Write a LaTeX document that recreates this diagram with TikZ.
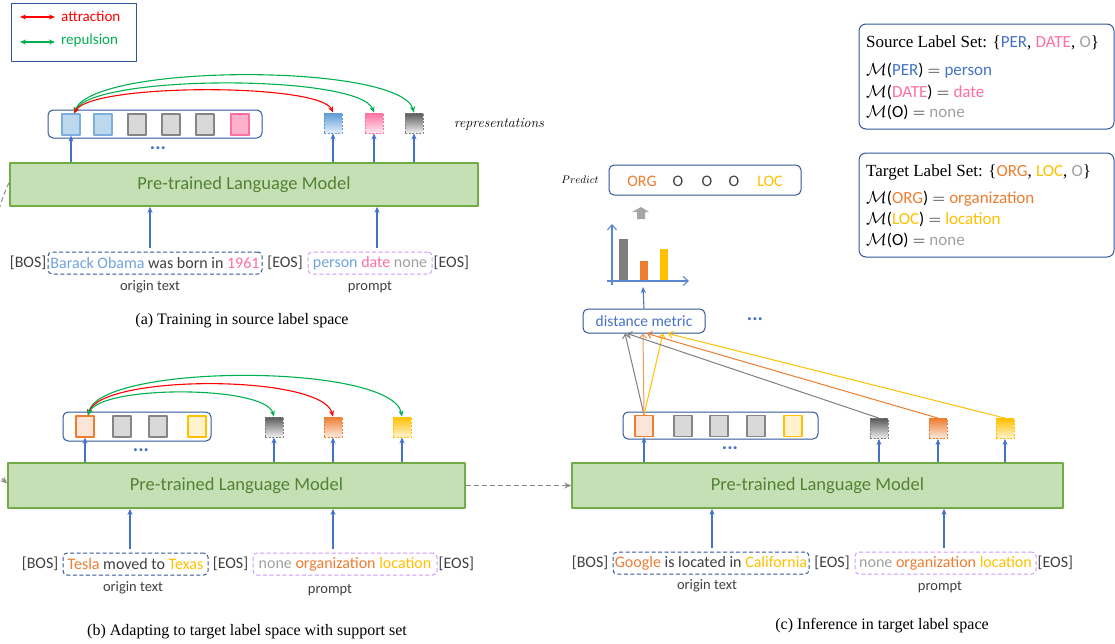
\documentclass[tikz,border=0pt]{standalone}
\usepackage{fontspec}
\setmainfont{Liberation Serif}
\newfontfamily\dx{Carlito}
\newfontfamily\lmrm{Latin Modern Roman}
\usetikzlibrary{arrows.meta,calc}

\definecolor{dkblue}{HTML}{2F5597}
\definecolor{arrblue}{HTML}{4472C4}
\definecolor{axblue}{HTML}{5B86D0}
\definecolor{lmfill}{HTML}{C5E0B4}
\definecolor{lmdraw}{HTML}{70AD47}
\definecolor{lmtext}{HTML}{548235}
\definecolor{txtdark}{HTML}{404040}
\definecolor{tblue}{HTML}{6FA3DC}
\definecolor{lblue}{HTML}{4472C4}
\definecolor{tpink}{HTML}{FF6F9F}
\definecolor{tgray}{HTML}{A0A0A0}
\definecolor{torange}{HTML}{ED7D31}
\definecolor{tyellow}{HTML}{FFC000}
\definecolor{purp}{HTML}{CC99FF}
\definecolor{attrc}{HTML}{FF0000}
\definecolor{repuc}{HTML}{00B050}
\definecolor{dashgray}{HTML}{8C8C8C}
\definecolor{bargray}{HTML}{7F7F7F}
\definecolor{blockgray}{HTML}{A6A6A6}
% token squares
\definecolor{sqblue}{HTML}{BDD7EE}
\definecolor{sqbluedraw}{HTML}{5B9BD5}
\definecolor{sqgray}{HTML}{D9D9D9}
\definecolor{sqgraydraw}{HTML}{858585}
\definecolor{sqpink}{HTML}{FFB0CA}
\definecolor{sqorange}{HTML}{FBE5D6}
\definecolor{sqyellow}{HTML}{FFF2CC}

\begin{document}
\begin{tikzpicture}[x=1pt,y=-1pt,line join=round,
  lmbox/.style={draw=lmdraw, fill=lmfill, line width=1.6pt, inner sep=0pt,
    font=\dx\fontsize{18.5}{20}\selectfont, text=lmtext},
  grp/.style={draw=dkblue, rounded corners=5pt, line width=1pt, inner sep=0pt},
  sq/.style={minimum width=18pt, minimum height=21pt, inner sep=0pt, line width=1.2pt},
  sqb/.style={sq, fill=sqblue, draw=sqbluedraw!80},
  sqg/.style={sq, fill=sqgray, draw=sqgraydraw},
  sqp/.style={sq, fill=sqpink, draw=tpink},
  sqo/.style={sq, fill=sqorange, draw=torange},
  sqy/.style={sq, fill=sqyellow, draw=tyellow},
  rsq/.style={minimum width=18pt, minimum height=20pt, inner sep=0pt, line width=0.8pt,
    dash pattern=on 2pt off 1.5pt},
  rsqb/.style={rsq, top color=sqbluedraw, bottom color=sqblue!40, draw=sqbluedraw},
  rsqp/.style={rsq, top color=tpink, bottom color=tpink!15, draw=tpink},
  rsqg/.style={rsq, top color=black!65, bottom color=black!6, draw=bargray},
  rsqo/.style={rsq, top color=torange, bottom color=torange!15, draw=torange},
  rsqy/.style={rsq, top color=tyellow, bottom color=tyellow!18, draw=tyellow},
  uparr/.style={draw=arrblue, line width=1.1pt, -{Stealth[length=6pt,width=5pt]}},
  dbl/.style={line width=1.1pt, {Stealth[length=6pt,width=5pt]}-{Stealth[length=6pt,width=5pt]}},
  feed/.style={line width=1pt, -{Straight Barb[length=4pt,width=7pt]}},
  axisarr/.style={draw=axblue, line width=1.1pt, -{Straight Barb[length=5pt,width=9pt]}},
  flow/.style={draw=dashgray, line width=1pt, dash pattern=on 5pt off 3pt,
    -{Stealth[length=7pt,width=6pt]}},
  intext/.style={font=\dx\fontsize{16}{18}\selectfont, text=txtdark, inner sep=1pt},
  origbx/.style={intext, draw=dkblue, line width=1pt, dash pattern=on 4pt off 2.5pt,
    rounded corners=4pt, minimum height=22pt},
  prombx/.style={origbx, draw=purp},
  sublbl/.style={font=\dx\fontsize{14.5}{16}\selectfont, text=txtdark, inner sep=0pt},
  capt/.style={font=\fontsize{16}{18}\selectfont, inner sep=0pt},
  dotrow/.style={font=\dx\bfseries\fontsize{20}{20}\selectfont, text=arrblue, inner sep=0pt},
  setline/.style={anchor=west, inner sep=0pt, font=\fontsize{17}{19}\selectfont},
  legtxt/.style={anchor=west, inner sep=0pt, font=\dx\fontsize{15}{17}\selectfont},
  preditem/.style={font=\dx\fontsize{16}{18}\selectfont, inner sep=0pt},
]
\useasboundingbox (0,0) rectangle (1115,643);
\clip (0,0) rectangle (1115,643);

% ---------------- legend ----------------
\node[draw=dkblue, line width=1pt, minimum width=125pt, minimum height=58pt] (legend) at (73.5,32) {};
\coordinate (la1) at (20,17); \coordinate (la2) at (55,17);
\coordinate (lr1) at (20,42); \coordinate (lr2) at (55,42);
\draw[dbl, attrc] (la1) -- (la2);
\draw[dbl, repuc] (lr1) -- (lr2);
\node[legtxt, text=attrc] (legA) at (61,16) {attraction};
\node[legtxt, text=repuc] (legR) at (61,40) {repulsion};

% ---------------- (a) training in source label space ----------------
\node[lmbox, minimum width=468pt, minimum height=43pt] (lmA) at (244,184.5) {Pre-trained Language Model};

\node[grp, minimum width=214pt, minimum height=28pt] (grpA) at (155,124) {};
\node[sqb] (a1) at (71,124.5) {};
\node[sqb] (a2) at (103,124.5) {};
\node[sqg] (a3) at (137,124.5) {};
\node[sqg] (a4) at (171,124.5) {};
\node[sqg] (a5) at (205,124.5) {};
\node[sqp] (a6) at (240,124.5) {};
\node[rsqb] (ra1) at (333,123) {};
\node[rsqp] (ra2) at (374,123) {};
\node[rsqg] (ra3) at (414,123) {};
\node[dotrow] (dotsA) at (158,148) {...};
\node[inner sep=0pt, font=\lmrm\itshape\fontsize{14}{16}\selectfont] (repr) at (499,124) {representations};

\foreach \s in {a1,ra1,ra2,ra3} \draw[uparr] (\s.south |- lmA.north) -- (\s.south);

\draw[dbl, repuc] ($(a1.north)+(3,0)$) .. controls (92,63) and (400,63) .. (ra3.north);
\draw[dbl, repuc] ($(a1.north)+(3,0)$) .. controls (92,74) and (360,74) .. (ra2.north);
\draw[dbl, attrc] ($(a1.north)+(3,0)$) .. controls (92,83) and (320,83) .. (ra1.north);

\node[origbx, minimum width=214pt] (origA) at (155,263)
  {{\color{tblue}Barack Obama} was born in {\color{tpink}1961}};
\node[intext, anchor=east] (bosA) at (origA.west) {[BOS]};
\node[prombx, minimum width=124pt] (promA) at (370,263)
  {{\color{tblue}person} {\color{tpink}date} {\color{tgray}none}};
\node[intext] (eosA1) at ($(origA.east)!0.5!(promA.west)$) {[EOS]};
\node[intext, anchor=west] (eosA2) at (promA.east) {[EOS]};
\node[sublbl] (otA) at (150,287) {origin text};
\node[sublbl] (ptA) at (370,287) {prompt};
\draw[uparr] ([xshift=-5pt,yshift=4pt]origA.north) -- ([xshift=-5pt]origA.north |- lmA.south);
\draw[uparr] ([xshift=7pt,yshift=4pt]promA.north) -- ([xshift=7pt]promA.north |- lmA.south);
\node[capt] (capA) at (242,321) {(a) Training in source label space};

% ---------------- (b) adapting with support set ----------------
\node[lmbox, minimum width=457pt, minimum height=45pt] (lmB) at (236.5,485.5) {Pre-trained Language Model};

\node[grp, minimum width=148pt, minimum height=29pt] (grpB) at (137,426.5) {};
\node[sqo] (b1) at (85,426.5) {};
\node[sqg] (b2) at (122,426.5) {};
\node[sqg] (b3) at (158,426.5) {};
\node[sqy] (b4) at (197,426.5) {};
\node[rsqg] (rb1) at (274,427) {};
\node[rsqo] (rb2) at (333,427) {};
\node[rsqy] (rb3) at (402,427) {};
\node[dotrow] (dotsB) at (141,450) {...};

\foreach \s in {b1,rb1,rb2,rb3} \draw[uparr] (\s.south |- lmB.north) -- (\s.south);

\draw[dbl, repuc] ($(b1.north)+(3,0)$) .. controls (100,363) and (392,363) .. (rb3.north);
\draw[dbl, attrc] ($(b1.north)+(3,0)$) .. controls (100,374) and (322,374) .. (rb2.north);
\draw[dbl, repuc] ($(b1.north)+(3,0)$) .. controls (100,385) and (265,385) .. (rb1.north);

\node[origbx, minimum width=145pt] (origB) at (135.5,564)
  {{\color{torange}Tesla} moved to {\color{tyellow}Texas}};
\node[intext, anchor=east] (bosB) at ([xshift=-3pt]origB.west) {[BOS]};
\node[prombx, minimum width=184pt] (promB) at (345,564)
  {{\color{tgray}none} {\color{torange}organization} {\color{tyellow}location}};
\node[intext] (eosB1) at ($(origB.east)!0.5!(promB.west)$) {[EOS]};
\node[intext, anchor=west] (eosB2) at (promB.east) {[EOS]};
\node[sublbl] (otB) at (133,588) {origin text};
\node[sublbl] (ptB) at (330,590) {prompt};
\draw[uparr] ([xshift=-5.5pt,yshift=4pt]origB.north) -- ([xshift=-5.5pt]origB.north |- lmB.south);
\draw[uparr] ([xshift=-12pt,yshift=4pt]promB.north) -- ([xshift=-12pt]promB.north |- lmB.south);
\node[capt] (capB) at (247,632) {(b) Adapting to target label space with support set};

% ---------------- (c) inference in target label space ----------------
\node[lmbox, minimum width=491pt, minimum height=45pt] (lmC) at (817.5,485.5) {Pre-trained Language Model};

\node[grp, minimum width=195pt, minimum height=27pt] (grpC) at (720.5,425.5) {};
\node[sqo] (c1) at (644,426) {};
\node[sqg] (c2) at (683,426) {};
\node[sqg] (c3) at (719,426) {};
\node[sqg] (c4) at (756,426) {};
\node[sqy] (c5) at (793,426) {};
\node[rsqg] (rc1) at (879,428.5) {};
\node[rsqo] (rc2) at (938,428.5) {};
\node[rsqy] (rc3) at (1005,428.5) {};
\node[dotrow] (dotsC) at (730,448) {...};

\foreach \s in {c1,rc1,rc2,rc3} \draw[uparr] (\s.south |- lmC.north) -- (\s.south);

\node[origbx, minimum width=196pt] (origC) at (711,563)
  {{\color{torange}Google} is located in {\color{tyellow}California}};
\node[intext, anchor=east] (bosC) at ([xshift=-3pt]origC.west) {[BOS]};
\node[prombx, minimum width=181pt] (promC) at (945.5,563)
  {{\color{tgray}none} {\color{torange}organization} {\color{tyellow}location}};
\node[intext] (eosC1) at ($(origC.east)!0.5!(promC.west)$) {[EOS]};
\node[intext, anchor=west] (eosC2) at (promC.east) {[EOS]};
\node[sublbl] (otC) at (707,586) {origin text};
\node[sublbl] (ptC) at (940,587) {prompt};
\draw[uparr] ([xshift=1pt,yshift=4pt]origC.north) -- ([xshift=1pt]origC.north |- lmC.south);
\draw[uparr] ([xshift=-1.5pt,yshift=4pt]promC.north) -- ([xshift=-1.5pt]promC.north |- lmC.south);
\node[capt] (capC) at (882,626) {(c) Inference in target label space};

% distance metric and its inputs
\node[grp, minimum width=122pt, minimum height=24pt, font=\dx\fontsize{15.5}{17}\selectfont,
  text=arrblue] (dist) at (644,321) {distance metric};
\node[dotrow] (dotsD) at (755,319) {...};
\draw[feed, draw=bargray] (c1.north) -- ($(dist.south)+(-19,0)$);
\draw[feed, draw=torange!80] (c1.north) -- ($(dist.south)+(-1,0)$);
\draw[feed, draw=tyellow] (c1.north) -- ($(dist.south)+(19,0)$);
\draw[feed, draw=bargray] (rc1.north) -- ($(dist.south)+(-17,0)$);
\draw[feed, draw=torange] (rc2.north) -- ($(dist.south)+(3,0)$);
\draw[feed, draw=tyellow] (rc3.north) -- ($(dist.south)+(24,0)$);

% score chart
\coordinate (chartin) at (643,287);
\draw[uparr] (dist.north) -- (chartin);
\fill[bargray] (619,239) rectangle (628,281);
\fill[torange] (640,261) rectangle (648,281);
\fill[tyellow] (660,249) rectangle (668,281);
\draw[axisarr] (612,285) -- (612,224);
\draw[axisarr] (607,281) -- (689,281);
\fill[blockgray] (637,219) -- (645,219) -- (645,212) -- (649,212) -- (641,207) -- (632,212) -- (637,212) -- cycle;

% prediction
\node[grp, minimum width=192pt, minimum height=30pt] (pred) at (705,180) {};
\node[inner sep=0pt, font=\fontsize{11}{13}\selectfont] (predlbl) at (580,180) {$Predict$};
\node[preditem, text=torange] (p1) at (642,181) {ORG};
\node[preditem, text=txtdark] (p2) at (678,181) {O};
\node[preditem, text=txtdark] (p3) at (707,181) {O};
\node[preditem, text=txtdark] (p4) at (734,181) {O};
\node[preditem, text=tyellow] (p5) at (770,181) {LOC};

% ---------------- label sets ----------------
\node[grp, rounded corners=7pt, minimum width=255pt, minimum height=105pt] (srcset) at (986.5,76.5) {};
\node[setline] (s1) at (866,43) {Source Label Set: \{{\dx\color{lblue}PER}, {\dx\color{tpink}DATE}, {\dx\color{tgray}O}\}};
\node[setline] (s2) at (866,71) {$\mathcal{M}${\dx(\textcolor{lblue}{PER})} $=$ {\dx\color{lblue}person}};
\node[setline] (s3) at (866,92) {$\mathcal{M}${\dx(\textcolor{tpink}{DATE})} $=$ {\dx\color{tpink}date}};
\node[setline] (s4) at (866,112) {$\mathcal{M}${\dx(O)} $=$ {\dx\color{tgray}none}};

\node[grp, rounded corners=7pt, minimum width=255pt, minimum height=104pt] (tgtset) at (986.5,205) {};
\node[setline] (t1) at (866,172) {Target Label Set: \{{\dx\color{torange}ORG}, {\dx\color{tyellow}LOC}, {\dx\color{tgray}O}\}};
\node[setline] (t2) at (866,199) {$\mathcal{M}${\dx(\textcolor{torange}{ORG})} $=$ {\dx\color{torange}organization}};
\node[setline] (t3) at (866,219) {$\mathcal{M}${\dx(\textcolor{tyellow}{LOC})} $=$ {\dx\color{tyellow}location}};
\node[setline] (t4) at (866,240) {$\mathcal{M}${\dx(O)} $=$ {\dx\color{tgray}none}};

% ---------------- flow between stages ----------------
\draw[flow] ($(lmA.west)+(0,-2)$) .. controls (-20,240) and (-40,440) .. ($(lmB.west)+(0,-2)$);
\draw[flow] (lmB.east) -- (lmC.west);
\end{tikzpicture}
\end{document}
